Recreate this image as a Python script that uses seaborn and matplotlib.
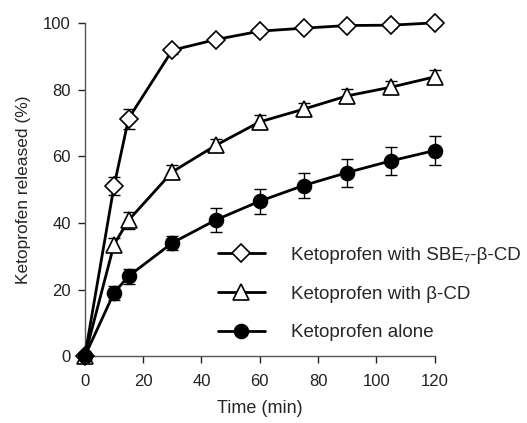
import numpy as np
import pandas as pd
import matplotlib
matplotlib.use('Agg')
import matplotlib.pyplot as plt
import seaborn as sns

# Data
time_min = [0, 10, 15, 30, 45, 60, 75, 90, 105, 120]

sbe_mean = [0, 51, 71.3, 91.8, 95, 97.5, 98.4, 99.2, 99.3, 100]
sbe_sd = [0, 2.7, 3, 1, 1, 0.8, 0.8, 0.8, 0.8, 0.8]

bcd_mean = [0, 33.5, 40.8, 55.3, 63.3, 70.3, 74.1, 78.1, 80.7, 83.8]
bcd_sd = [0, 2, 2.5, 2.2, 2, 2, 2, 2, 2, 2.2]

alone_mean = [0, 19, 24, 34, 40.9, 46.5, 51.2, 55.1, 58.6, 61.7]
alone_sd = [0, 2, 2.2, 2.2, 3.5, 3.7, 3.7, 4.2, 4.3, 4.3]

labels = ['Ketoprofen with SBE\u2087-\u03b2-CD', 'Ketoprofen with \u03b2-CD', 'Ketoprofen alone']

df = pd.concat([
    pd.DataFrame({'Time': time_min, 'Released': sbe_mean, 'sd': sbe_sd, 'Group': labels[0]}),
    pd.DataFrame({'Time': time_min, 'Released': bcd_mean, 'sd': bcd_sd, 'Group': labels[1]}),
    pd.DataFrame({'Time': time_min, 'Released': alone_mean, 'sd': alone_sd, 'Group': labels[2]}),
])

sns.set_style('ticks')
plt.rcParams['font.family'] = ['Liberation Sans', 'DejaVu Sans']

fig = plt.figure(figsize=(5.27, 4.23), dpi=100)
ax = fig.add_axes([0.161, 0.158, 0.664, 0.788])

markers = {labels[0]: 'D', labels[1]: '^', labels[2]: 'o'}
faces = {labels[0]: 'white', labels[1]: 'white', labels[2]: 'black'}
sizes = {labels[0]: 9, labels[1]: 11, labels[2]: 10}

# error bars first so the markers sit on top
for g, sub in df.groupby('Group', sort=False):
    ax.errorbar(sub['Time'], sub['Released'], yerr=sub['sd'], fmt='none',
                ecolor='black', elinewidth=1, capsize=4, capthick=1, zorder=2, clip_on=False)

for g in labels:
    sub = df[df['Group'] == g]
    sns.lineplot(data=sub, x='Time', y='Released', ax=ax, color='black', linewidth=2,
                 marker=markers[g], markersize=sizes[g], markerfacecolor=faces[g],
                 markeredgecolor='black', markeredgewidth=1.2, label=g, clip_on=False, zorder=3)

ax.set_xlim(0, 120)
ax.set_ylim(0, 100)
ax.set_xticks(range(0, 121, 20))
ax.set_yticks(range(0, 101, 20))
ax.tick_params(direction='out', length=5, width=1, labelsize=12, colors='#222222', pad=5)
ax.tick_params(axis='x', pad=8)
for s in ['left', 'bottom']:
    ax.spines[s].set_color('#555555')
    ax.spines[s].set_linewidth(1)
sns.despine(ax=ax)
ax.set_xlabel('Time (min)', fontsize=13, labelpad=8)
ax.set_ylabel('Ketoprofen released (%)', fontsize=12.5, labelpad=9)

ax.legend(loc='center left', bbox_to_anchor=(218 / 527, 0.305), bbox_transform=fig.transFigure,
          frameon=False, fontsize=13.5, borderpad=0, borderaxespad=0,
          handlelength=2.5, labelspacing=1.15, handletextpad=1.4)

fig.savefig('out.png', dpi=100)
